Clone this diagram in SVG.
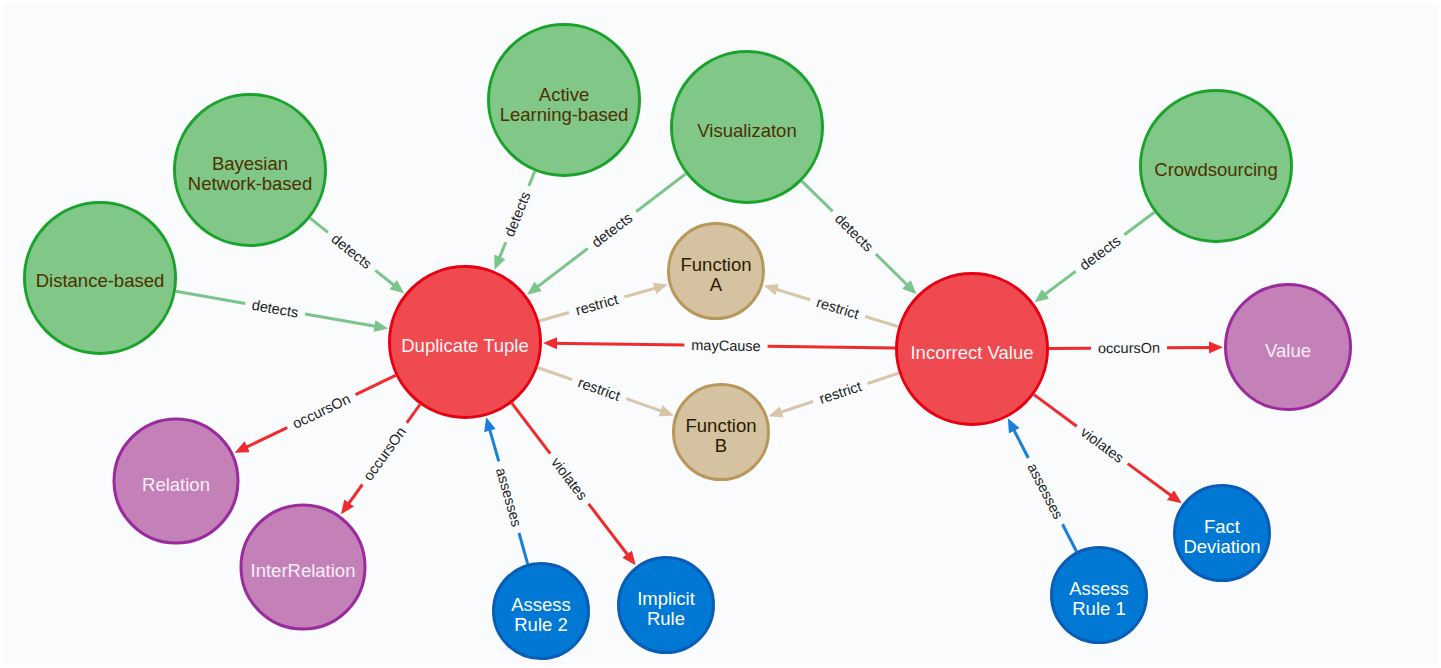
<svg xmlns="http://www.w3.org/2000/svg" width="1441" height="668" viewBox="0 0 1441 668">
<defs>
<marker id="ag" markerUnits="userSpaceOnUse" markerWidth="16" markerHeight="14" refX="8" refY="6" orient="auto"><path d="M0,0 L14,6 L0,12 z" fill="#7cc58a"/></marker>
<marker id="ar" markerUnits="userSpaceOnUse" markerWidth="16" markerHeight="14" refX="8" refY="6" orient="auto"><path d="M0,0 L14,6 L0,12 z" fill="#ef2b2e"/></marker>
<marker id="at" markerUnits="userSpaceOnUse" markerWidth="16" markerHeight="14" refX="8" refY="6" orient="auto"><path d="M0,0 L14,6 L0,12 z" fill="#d8c6a8"/></marker>
<marker id="ab" markerUnits="userSpaceOnUse" markerWidth="16" markerHeight="14" refX="8" refY="6" orient="auto"><path d="M0,0 L14,6 L0,12 z" fill="#1a7fd8"/></marker>
</defs>
<style>
.n text{font-family:"Liberation Sans",Arial,sans-serif;font-size:18.5px;text-anchor:middle;dominant-baseline:central}
.g circle{fill:#80c788;stroke:#1aa32a;stroke-width:3}
.g text{fill:#4d3100}
.r circle{fill:#ef4a50;stroke:#e60012;stroke-width:3}
.r text{fill:#fff4f6}
.t circle{fill:#d5c2a1;stroke:#b8985a;stroke-width:3}
.t text{fill:#2a1c00}
.p circle{fill:#c481b7;stroke:#9a2a9e;stroke-width:3}
.p text{fill:#fbeefa}
.b circle{fill:#0078d4;stroke:#0b5cb5;stroke-width:3}
.b text{fill:#ffffff}
.e line{stroke-width:3;fill:none}
.eg line{stroke:#7cc58a}
.er line{stroke:#ef2b2e}
.et line{stroke:#d8c6a8}
.eb line{stroke:#1a7fd8}
.e text{font-family:"Liberation Sans",Arial,sans-serif;font-size:14.5px;fill:#222;text-anchor:middle;dominant-baseline:central}
</style>
<rect x="0" y="0" width="1441" height="668" fill="#ffffff"/>
<rect x="3" y="3" width="1435" height="662" fill="#f9fbfd"/>
<g id="connectors">
<g class="e eg">
<line x1="175.8" y1="291.3" x2="245.2" y2="303.4"/><line x1="305.0" y1="313.9" x2="382.3" y2="327.5" marker-end="url(#ag)"/>
<text transform="translate(275.1,308.7) rotate(9.9)">detects</text>
<line x1="310.1" y1="218.1" x2="327.9" y2="232.3"/><line x1="375.3" y1="270.3" x2="399.4" y2="289.5" marker-end="url(#ag)"/>
<text transform="translate(351.6,251.3) rotate(38.7)">detects</text>
<line x1="534.8" y1="171.3" x2="528.8" y2="186.0"/><line x1="505.8" y1="242.2" x2="496.8" y2="264.2" marker-end="url(#ag)"/>
<text transform="translate(517.3,214.1) rotate(-67.75)">detects</text>
<line x1="685.8" y1="173.7" x2="636.2" y2="211.6"/><line x1="587.8" y1="248.4" x2="531.8" y2="291.1" marker-end="url(#ag)"/>
<text transform="translate(612.0,230.0) rotate(-37.3)">detects</text>
<line x1="801.8" y1="181.1" x2="832.6" y2="211.3"/><line x1="875.8" y1="254.0" x2="912.2" y2="290.0" marker-end="url(#ag)"/>
<text transform="translate(854.2,232.7) rotate(44.6)">detects</text>
<line x1="1154.4" y1="212.2" x2="1124.3" y2="234.8"/><line x1="1075.7" y1="271.2" x2="1039.2" y2="298.6" marker-end="url(#ag)"/>
<text transform="translate(1100.0,253.0) rotate(-36.9)">detects</text>
</g>
<g class="e et">
<line x1="539.1" y1="321.0" x2="569.1" y2="312.5"/><line x1="624.5" y1="296.9" x2="662.1" y2="286.2" marker-end="url(#at)"/>
<text transform="translate(596.8,304.7) rotate(-15.8)">restrict</text>
<line x1="898.3" y1="326.6" x2="865.2" y2="316.5"/><line x1="810.2" y1="299.7" x2="769.5" y2="287.3" marker-end="url(#at)"/>
<text transform="translate(837.7,308.1) rotate(16.95)">restrict</text>
<line x1="537.6" y1="367.5" x2="572.0" y2="379.6"/><line x1="626.2" y1="398.6" x2="668.1" y2="413.4" marker-end="url(#at)"/>
<text transform="translate(599.1,389.1) rotate(19.4)">restrict</text>
<line x1="898.9" y1="373.2" x2="867.6" y2="383.5"/><line x1="813.0" y1="401.5" x2="774.2" y2="414.4" marker-end="url(#at)"/>
<text transform="translate(840.3,392.5) rotate(-18.3)">restrict</text>
</g>
<g class="e er">
<line x1="895.0" y1="347.9" x2="767.6" y2="346.2"/><line x1="684.4" y1="345.0" x2="549.0" y2="343.2" marker-end="url(#ar)"/>
<text transform="translate(726.0,345.6) rotate(0.8)">mayCause</text>
<line x1="1049.0" y1="348.5" x2="1091.0" y2="348.2"/><line x1="1167.0" y1="347.8" x2="1217.0" y2="347.4" marker-end="url(#ar)"/>
<text transform="translate(1129.0,348.0) rotate(-0.36)">occursOn</text>
<line x1="395.6" y1="375.4" x2="355.6" y2="394.6"/><line x1="287.2" y1="427.6" x2="240.0" y2="450.2" marker-end="url(#ar)"/>
<text transform="translate(321.4,411.1) rotate(-25.7)">occursOn</text>
<line x1="420.0" y1="404.5" x2="406.8" y2="422.9"/><line x1="362.4" y1="484.5" x2="344.5" y2="509.4" marker-end="url(#ar)"/>
<text transform="translate(384.6,453.7) rotate(-54.25)">occursOn</text>
<line x1="511.8" y1="403.2" x2="550.2" y2="453.6"/><line x1="588.6" y1="503.8" x2="632.0" y2="560.5" marker-end="url(#ar)"/>
<text transform="translate(569.4,478.7) rotate(52.6)">violates</text>
<line x1="1034.0" y1="394.6" x2="1076.7" y2="426.2"/><line x1="1127.7" y1="463.6" x2="1176.9" y2="499.8" marker-end="url(#ar)"/>
<text transform="translate(1102.2,444.9) rotate(36.35)">violates</text>
</g>
<g class="e eb">
<line x1="527.7" y1="563.8" x2="519.0" y2="533.0"/><line x1="498.8" y1="461.4" x2="487.8" y2="422.9" marker-end="url(#ab)"/>
<text transform="translate(508.9,497.2) rotate(74.2)">assesses</text>
<line x1="1076.5" y1="551.5" x2="1062.5" y2="524.2"/><line x1="1028.3" y1="458.0" x2="1010.6" y2="423.6" marker-end="url(#ab)"/>
<text transform="translate(1045.4,491.1) rotate(62.7)">assesses</text>
</g>
</g>
<g id="n-distance" class="n g"><circle cx="100" cy="278" r="75.5"/><text x="100" y="280">Distance-based</text></g>
<g id="n-bayesian" class="n g"><circle cx="250" cy="170" r="75.5"/><text x="250" y="163">Bayesian</text><text x="250" y="183">Network-based</text></g>
<g id="n-active" class="n g"><circle cx="564" cy="100" r="75.5"/><text x="564" y="94">Active</text><text x="564" y="114">Learning-based</text></g>
<g id="n-visual" class="n g"><circle cx="747" cy="127" r="75.5"/><text x="747" y="130">Visualizaton</text></g>
<g id="n-crowd" class="n g"><circle cx="1216" cy="166" r="75.5"/><text x="1216" y="169">Crowdsourcing</text></g>
<g id="n-dup" class="n r"><circle cx="465" cy="342" r="75.5"/><text x="465" y="345">Duplicate Tuple</text></g>
<g id="n-inc" class="n r"><circle cx="972" cy="349" r="75.5"/><text x="972" y="352">Incorrect Value</text></g>
<g id="n-funa" class="n t"><circle cx="716" cy="271" r="47.5"/><text x="716" y="264.5">Function</text><text x="716" y="284">A</text></g>
<g id="n-funb" class="n t"><circle cx="721" cy="432" r="47.5"/><text x="721" y="425.5">Function</text><text x="721" y="445">B</text></g>
<g id="n-value" class="n p"><circle cx="1288" cy="347" r="62.5"/><text x="1288" y="350">Value</text></g>
<g id="n-relation" class="n p"><circle cx="176" cy="481" r="62"/><text x="176" y="484">Relation</text></g>
<g id="n-interrel" class="n p"><circle cx="303" cy="567" r="62"/><text x="303" y="570">InterRelation</text></g>
<g id="n-ar2" class="n b"><circle cx="541" cy="611" r="47.5"/><text x="541" y="604.5">Assess</text><text x="541" y="624">Rule 2</text></g>
<g id="n-implicit" class="n b"><circle cx="666" cy="605" r="47.5"/><text x="666" y="598.5">Implicit</text><text x="666" y="618">Rule</text></g>
<g id="n-fact" class="n b"><circle cx="1222" cy="533" r="47.5"/><text x="1222" y="526.5">Fact</text><text x="1222" y="546">Deviation</text></g>
<g id="n-ar1" class="n b"><circle cx="1099" cy="595" r="47.5"/><text x="1099" y="588.5">Assess</text><text x="1099" y="608">Rule 1</text></g>
</svg>
